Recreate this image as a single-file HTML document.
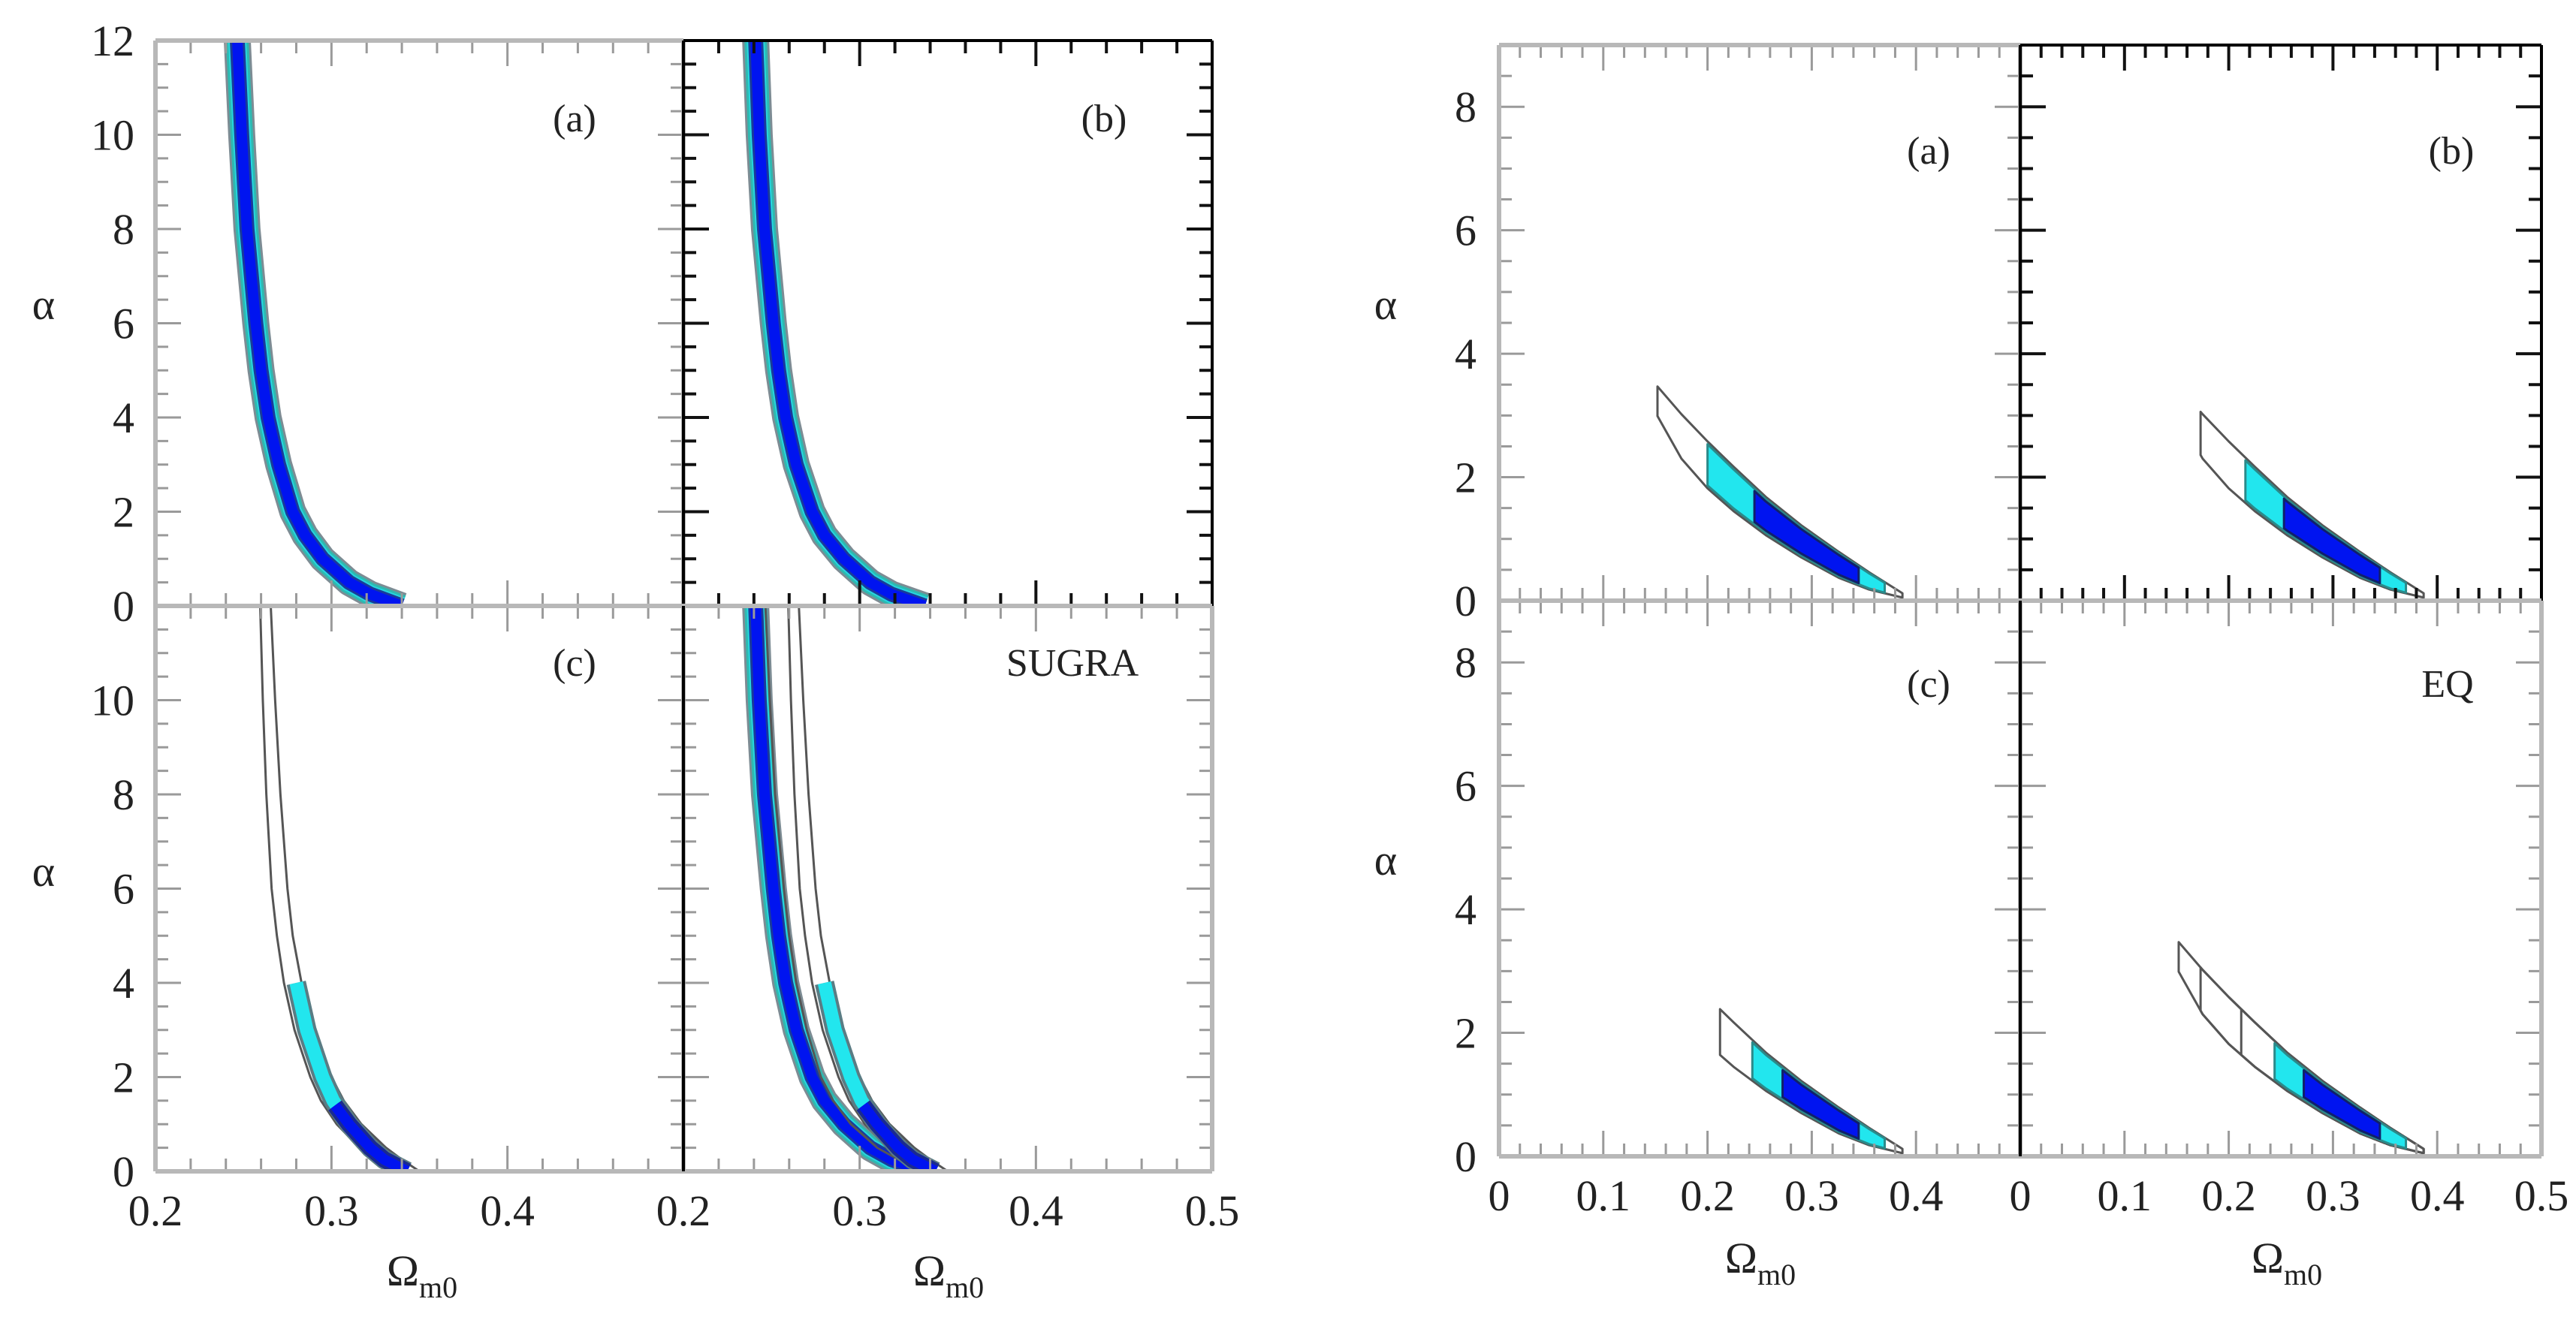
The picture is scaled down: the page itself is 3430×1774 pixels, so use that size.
<!DOCTYPE html>
<html><head><meta charset="utf-8">
<style>
html,body{margin:0;padding:0;background:#fff;}
svg{display:block;}
text{font-family:"Liberation Serif",serif;fill:#222;}
</style></head>
<body>
<svg id="chart" width="3430" height="1774" viewBox="0 0 3430 1774" xmlns="http://www.w3.org/2000/svg">
<rect width="3430" height="1774" fill="#fff"/>
</svg>
<script>
// ---- Left figure data: band centrelines (alpha vs Omega_m0) ----
const bandAlpha = [12, 10, 8, 6, 5, 4, 3, 2, 1.5, 1, 0.5, 0.25, 0];
const bandOmegaA = [0.2465, 0.249, 0.252, 0.257, 0.260, 0.264, 0.270, 0.278, 0.285, 0.295, 0.310, 0.322, 0.340];
const bandOmegaB = [0.241, 0.243, 0.246, 0.251, 0.254, 0.258, 0.264, 0.273, 0.280, 0.291, 0.306, 0.318, 0.337];
const lineOmegaC1 = [0.2595, 0.261, 0.263, 0.266, 0.269, 0.273, 0.279, 0.288, 0.294, 0.303, 0.316, 0.325, 0.336];
const lineOmegaC2 = [0.2655, 0.268, 0.271, 0.275, 0.278, 0.283, 0.290, 0.300, 0.307, 0.317, 0.331, 0.340, 0.350];
const cyanAlphaC = [4, 3, 2, 1.5, 1, 0.5, 0.25, 0];
const cyanOmegaC = [0.280, 0.286, 0.295, 0.301, 0.310, 0.322, 0.330, 0.343];
const blueAlphaC = [1.4, 1, 0.5, 0.25, 0];
const blueOmegaC = [0.302, 0.310, 0.322, 0.330, 0.343];

// ---- Right figure data: crescent edges ----
const cresOmega = [0.152, 0.175, 0.2, 0.225, 0.256, 0.29, 0.326, 0.355, 0.387];
const cresUpper = [3.47, 3.02, 2.58, 2.17, 1.68, 1.22, 0.79, 0.46, 0.12];
const cresLower = [2.99, 2.30, 1.82, 1.45, 1.06, 0.70, 0.37, 0.18, 0.05];
const startA = [0.152, 0.200, 0.245];
const startB = [0.173, 0.216, 0.253];
const startC = [0.212, 0.243, 0.272];
const startEQ = [0.244, 0.272];

const xTicksL1 = ["0.2","0.3","0.4"];
const xTicksL2 = ["0.2","0.3","0.4","0.5"];
const xTicksR1 = ["0","0.1","0.2","0.3","0.4"];
const xTicksR2 = ["0","0.1","0.2","0.3","0.4","0.5"];

const NS = "http://www.w3.org/2000/svg";
const svg = document.getElementById('chart');
let clipId = 0;
function el(tag, attrs, parent) {
  const e = document.createElementNS(NS, tag);
  for (const k in attrs) e.setAttribute(k, attrs[k]);
  (parent || svg).appendChild(e);
  return e;
}
function interp(xs, ys, x) {
  // xs ascending
  if (x <= xs[0]) return ys[0];
  for (let i = 1; i < xs.length; i++) {
    if (x <= xs[i]) { const t = (x - xs[i-1]) / (xs[i] - xs[i-1]); return ys[i-1] + t * (ys[i] - ys[i-1]); }
  }
  return ys[ys.length - 1];
}

function makePanel(name, x0, y0, w, h, xmin, xmax, ymin, ymax, black) {
  const sx = v => x0 + (v - xmin) / (xmax - xmin) * w;
  const sy = v => y0 + h - (v - ymin) / (ymax - ymin) * h;
  const g = el('g', {});
  
  
  const cid = 'clip' + (clipId++);
  const cp = el('clipPath', {id: cid}, g);
  el('rect', {x: x0, y: y0, width: w, height: h}, cp);
  const plot = el('g', {'clip-path': 'url(#' + cid + ')'}, g);
  return {sx, sy, g, plot, x0, y0, w, h, xmin, xmax, ymin, ymax, black};
}
function drawFrame(p, xstepMaj, xstepMin, ystepMaj, ystepMin, blackSides) {
  const col = s => blackSides.includes(s) ? '#000' : '#b8b8b8';
  const tg = el('g', {}, p.g);
  
  
  const tcol = p.black ? '#111' : '#9a9a9a';
  const tw = p.black ? 4 : 3;
  for (let v = p.xmin; v <= p.xmax + 1e-9; v += xstepMin) {
    const maj = Math.abs(Math.round(v / xstepMaj) * xstepMaj - v) < 1e-6;
    const L = maj ? 34 : 17, X = p.sx(v);
    el('line', {x1: X, y1: p.y0 + p.h, x2: X, y2: p.y0 + p.h - L, stroke: tcol, 'stroke-width': tw}, tg);
    el('line', {x1: X, y1: p.y0, x2: X, y2: p.y0 + L, stroke: tcol, 'stroke-width': tw}, tg);
  }
  for (let v = p.ymin; v <= p.ymax + 1e-9; v += ystepMin) {
    const maj = Math.abs(Math.round(v / ystepMaj) * ystepMaj - v) < 1e-6;
    const L = maj ? 34 : 17, Y = p.sy(v);
    el('line', {x1: p.x0, y1: Y, x2: p.x0 + L, y2: Y, stroke: tcol, 'stroke-width': tw}, tg);
    el('line', {x1: p.x0 + p.w, y1: Y, x2: p.x0 + p.w - L, y2: Y, stroke: tcol, 'stroke-width': tw}, tg);
  }
  const fw = s => blackSides.includes(s) ? 4 : 6;
  el('line', {x1: p.x0, y1: p.y0, x2: p.x0 + p.w, y2: p.y0, stroke: col('t'), 'stroke-width': fw('t')}, p.g);
  el('line', {x1: p.x0 + p.w, y1: p.y0, x2: p.x0 + p.w, y2: p.y0 + p.h, stroke: col('r'), 'stroke-width': fw('r')}, p.g);
  el('line', {x1: p.x0, y1: p.y0 + p.h, x2: p.x0 + p.w, y2: p.y0 + p.h, stroke: col('b'), 'stroke-width': fw('b')}, p.g);
  el('line', {x1: p.x0, y1: p.y0, x2: p.x0, y2: p.y0 + p.h, stroke: col('l'), 'stroke-width': fw('l')}, p.g);
}
function polyPts(p, xs, ys) { return xs.map((x, i) => p.sx(x) + ',' + p.sy(ys[i])).join(' '); }
function band(p, omegas, alphas, name) {
  const pts = polyPts(p, omegas, alphas);
  const layers = [['#7d8c94', 36], ['#2fb8b0', 30], ['#24d8e0', 24], ['#1a3a9a', 20], ['#0014f0', 14]];
  layers.forEach(([c, wd]) => {
    const l = el('polyline', {points: pts, fill: 'none', stroke: c, 'stroke-width': wd, 'stroke-linejoin': 'round'}, p.plot);
    
    
  });
}
function thinLine(p, omegas, alphas, name) {
  const l = el('polyline', {points: polyPts(p, omegas, alphas), fill: 'none', stroke: '#555', 'stroke-width': 3}, p.plot);
  
  
}
function stroke(p, omegas, alphas, color, wd, name) {
  const l = el('polyline', {points: polyPts(p, omegas, alphas), fill: 'none', stroke: color, 'stroke-width': wd, 'stroke-linejoin': 'round'}, p.plot);
  
  
}
function cresPoly(p, s, e, inset, fill, strokeC, name) {
  const xs = [s];
  cresOmega.forEach(o => { if (o > s && o < e) xs.push(o); });
  xs.push(e);
  const up = [], lo = [];
  xs.forEach(o => {
    const u = interp(cresOmega, cresUpper, o), l = interp(cresOmega, cresLower, o);
    const d = (u - l) * inset;
    up.push(p.sx(o) + ',' + p.sy(u - d));
    lo.push(p.sx(o) + ',' + p.sy(l + d));
  });
  const pts = up.concat(lo.reverse()).join(' ');
  const poly = el('polygon', {points: pts, fill: fill, stroke: strokeC, 'stroke-width': 3, 'stroke-linejoin': 'round'}, p.plot);
  
  
}
function txt(x, y, s, size, anchor, name) {
  const t = el('text', {x: x, y: y, 'font-size': size, 'text-anchor': anchor || 'middle'});
  t.textContent = s;
  
  
  return t;
}
function omegaLabel(x, y, name) {
  const t = el('text', {x: x, y: y, 'font-size': 58, 'text-anchor': 'middle'});
  
  
  const a = el('tspan', {}, t); a.textContent = 'Ω';
  const b = el('tspan', {dy: 16, 'font-size': 40}, t); b.textContent = 'm0';
}

// ===== Left figure =====
const LX = [207, 910, 1614], LY = [54, 807, 1560];
const pa = makePanel('panel-left-a', LX[0], LY[0], LX[1]-LX[0], LY[1]-LY[0], 0.2, 0.5, 0, 12, false);
const pb = makePanel('panel-left-b', LX[1], LY[0], LX[2]-LX[1], LY[1]-LY[0], 0.2, 0.5, 0, 12, true);
const pc = makePanel('panel-left-c', LX[0], LY[1], LX[1]-LX[0], LY[2]-LY[1], 0.2, 0.5, 0, 12, false);
const pd = makePanel('panel-left-sugra', LX[1], LY[1], LX[2]-LX[1], LY[2]-LY[1], 0.2, 0.5, 0, 12, false);

band(pa, bandOmegaA, bandAlpha, 'band-a');
band(pb, bandOmegaB, bandAlpha, 'band-b');
thinLine(pc, lineOmegaC1, bandAlpha, 'contour-c-left');
thinLine(pc, lineOmegaC2, bandAlpha, 'contour-c-right');
stroke(pc, cyanOmegaC, cyanAlphaC, '#5a7c84', 26, 'band-c-edge');
stroke(pc, cyanOmegaC, cyanAlphaC, '#22e6ee', 18, 'band-c-cyan');
stroke(pc, blueOmegaC, blueAlphaC, '#1a2a90', 22, 'band-c-edge-blue');
stroke(pc, blueOmegaC, blueAlphaC, '#0014f0', 14, 'band-c-blue');
band(pd, bandOmegaB, bandAlpha, 'band-sugra-b');
thinLine(pd, bandOmegaA, bandAlpha, 'contour-sugra-a');
thinLine(pd, lineOmegaC1, bandAlpha, 'contour-sugra-c-left');
thinLine(pd, lineOmegaC2, bandAlpha, 'contour-sugra-c-right');
stroke(pd, cyanOmegaC, cyanAlphaC, '#5a7c84', 26, 'band-sugra-edge');
stroke(pd, cyanOmegaC, cyanAlphaC, '#22e6ee', 18, 'band-sugra-cyan');
stroke(pd, blueOmegaC, blueAlphaC, '#1a2a90', 22, 'band-sugra-edge-blue');
stroke(pd, blueOmegaC, blueAlphaC, '#0014f0', 14, 'band-sugra-blue');

drawFrame(pa, 0.1, 0.02, 2, 0.5, []);
drawFrame(pc, 0.1, 0.02, 2, 0.5, []);
drawFrame(pd, 0.1, 0.02, 2, 0.5, ['l']);
drawFrame(pb, 0.1, 0.02, 2, 0.5, ['t','r','b','l']);

// left tick labels
[0,2,4,6,8,10,12].forEach(v => txt(LX[0]-28, pa.sy(v)+20, String(v), 58, 'end', 'y-tick-label'));
[0,2,4,6,8,10].forEach(v => txt(LX[0]-28, pc.sy(v)+20, String(v), 58, 'end', 'y-tick-label'));
xTicksL1.forEach(s => txt(pc.sx(parseFloat(s)), 1632, s, 58, 'middle', 'x-tick-label'));
xTicksL2.forEach(s => txt(pd.sx(parseFloat(s)), 1632, s, 58, 'middle', 'x-tick-label'));
txt(58, 425, 'α', 58, 'middle', 'y-axis-title');
txt(58, 1180, 'α', 58, 'middle', 'y-axis-title');
omegaLabel(562, 1712, 'x-axis-title');
omegaLabel(1263, 1712, 'x-axis-title');
txt(765, 175, '(a)', 52, 'middle', 'panel-label-a');
txt(1470, 175, '(b)', 52, 'middle', 'panel-label-b');
txt(765, 900, '(c)', 52, 'middle', 'panel-label-c');
txt(1428, 900, 'SUGRA', 52, 'middle', 'panel-label-sugra');

// ===== Right figure =====
const RX = [1996, 2690, 3384], RY = [60, 800, 1540];
const qa = makePanel('panel-right-a', RX[0], RY[0], RX[1]-RX[0], RY[1]-RY[0], 0, 0.5, 0, 9, false);
const qb = makePanel('panel-right-b', RX[1], RY[0], RX[2]-RX[1], RY[1]-RY[0], 0, 0.5, 0, 9, true);
const qc = makePanel('panel-right-c', RX[0], RY[1], RX[1]-RX[0], RY[2]-RY[1], 0, 0.5, 0, 9, false);
const qd = makePanel('panel-right-eq', RX[1], RY[1], RX[2]-RX[1], RY[2]-RY[1], 0, 0.5, 0, 9, false);

function crescentSet(p, st, tag) {
  cresPoly(p, st[0], 0.387, 0, 'none', '#555', 'contour-' + tag);
  cresPoly(p, st[1], 0.37, 0.06, '#22e6ee', '#2a8a8a', 'region-cyan-' + tag);
  cresPoly(p, st[2], 0.345, 0.12, '#0014f0', '#10206a', 'region-blue-' + tag);
}
crescentSet(qa, startA, 'a');
crescentSet(qb, startB, 'b');
crescentSet(qc, startC, 'c');
cresPoly(qd, startA[0], 0.387, 0, 'none', '#555', 'contour-eq-a');
cresPoly(qd, startB[0], 0.387, 0, 'none', '#555', 'contour-eq-b');
cresPoly(qd, startC[0], 0.387, 0, 'none', '#555', 'contour-eq-c');
cresPoly(qd, startEQ[0], 0.37, 0.06, '#22e6ee', '#2a8a8a', 'region-cyan-eq');
cresPoly(qd, startEQ[1], 0.345, 0.12, '#0014f0', '#10206a', 'region-blue-eq');

drawFrame(qa, 0.1, 0.02, 2, 0.5, []);
drawFrame(qc, 0.1, 0.02, 2, 0.5, []);
drawFrame(qd, 0.1, 0.02, 2, 0.5, ['l']);
drawFrame(qb, 0.1, 0.02, 2, 0.5, ['t','r','b','l']);

[0,2,4,6,8].forEach(v => txt(RX[0]-30, qa.sy(v)+20, String(v), 58, 'end', 'y-tick-label'));
[0,2,4,6,8].forEach(v => txt(RX[0]-30, qc.sy(v)+20, String(v), 58, 'end', 'y-tick-label'));
xTicksR1.forEach(s => txt(qc.sx(parseFloat(s)), 1612, s, 58, 'middle', 'x-tick-label'));
xTicksR2.forEach(s => txt(qd.sx(parseFloat(s)), 1612, s, 58, 'middle', 'x-tick-label'));
txt(1845, 425, 'α', 58, 'middle', 'y-axis-title');
txt(1845, 1165, 'α', 58, 'middle', 'y-axis-title');
omegaLabel(2344, 1695, 'x-axis-title');
omegaLabel(3045, 1695, 'x-axis-title');
txt(2568, 218, '(a)', 52, 'middle', 'panel-label-a');
txt(3264, 218, '(b)', 52, 'middle', 'panel-label-b');
txt(2568, 928, '(c)', 52, 'middle', 'panel-label-c');
txt(3259, 928, 'EQ', 52, 'middle', 'panel-label-eq');
</script>
</body></html>
